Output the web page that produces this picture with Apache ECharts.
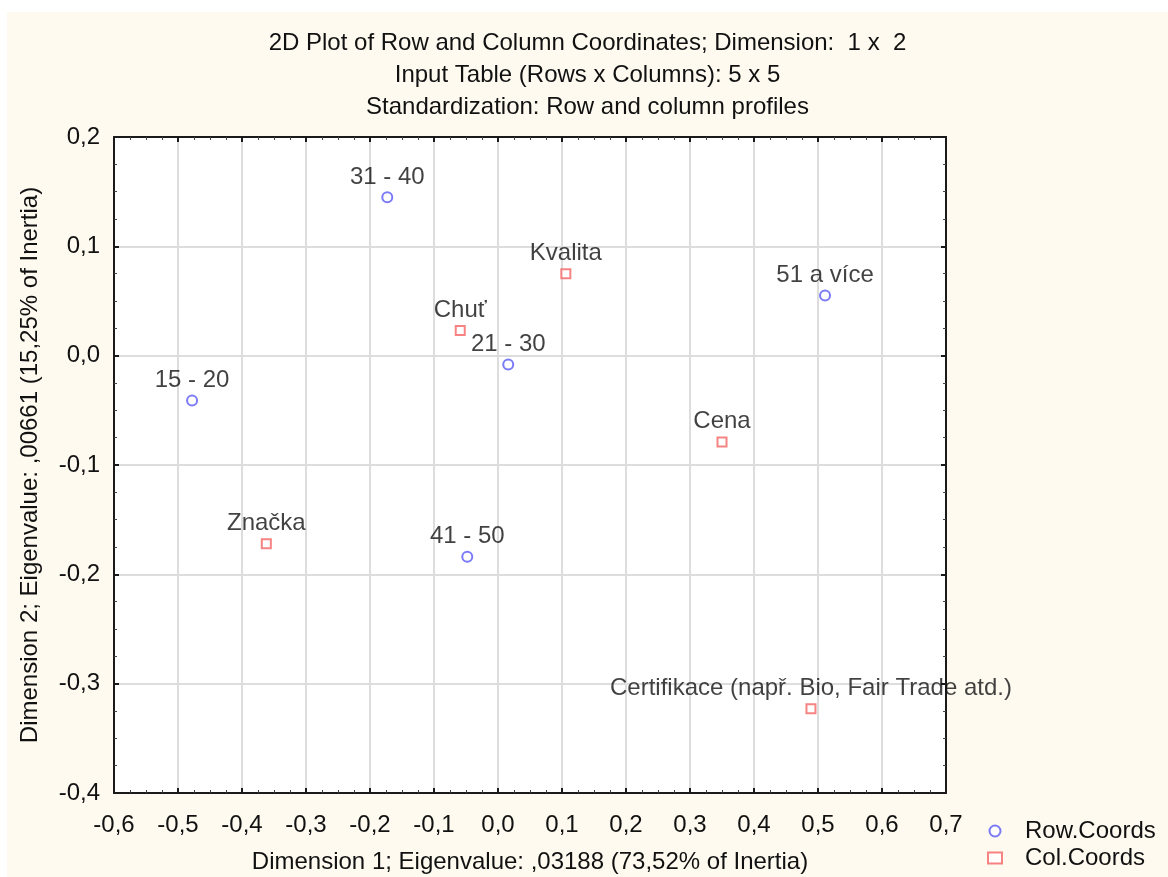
<!DOCTYPE html>
<html>
<head>
<meta charset="utf-8">
<script src="https://cdn.jsdelivr.net/npm/echarts@6/dist/echarts.min.js"></script>
<style>
  html, body { margin: 0; padding: 0; background: #ffffff; }
  #chart { position: absolute; left: 7px; top: 12px; width: 1161px; height: 865px; }
</style>
</head>
<body>
<div id="chart"></div>
<script>
// row points (age groups)
const rowNames = ['15 - 20', '21 - 30', '31 - 40', '41 - 50', '51 a více']
const rowDim1 = [-0.478, 0.016, -0.173, -0.048, 0.511]
const rowDim2 = [-0.041, -0.008, 0.145, -0.184, 0.055]

// column points (criteria)
const colNames = ['Chuť', 'Kvalita', 'Cena', 'Značka', 'Certifikace (např. Bio, Fair Trade atd.)']
const colDim1 = [-0.059, 0.106, 0.350, -0.362, 0.489]
const colDim2 = [0.023, 0.075, -0.079, -0.172, -0.323]

const titleLines = [
  '2D Plot of Row and Column Coordinates; Dimension:  1 x  2',
  'Input Table (Rows x Columns): 5 x 5',
  'Standardization: Row and column profiles',
]
const xName = 'Dimension 1; Eigenvalue: ,03188 (73,52% of Inertia)'
const yName = 'Dimension 2; Eigenvalue: ,00661 (15,25% of Inertia)'

const fmt = (v) => {
  const s = Math.abs(v).toFixed(1).replace('.', ',')
  return (v < -1e-9 ? '-' : '') + s
}

const chart = echarts.init(document.getElementById('chart'))
const font = 'Liberation Sans, Arial, sans-serif'
const txt = '#111111'
const fs = 24

const axisCommon = {
  type: 'value',
  interval: 0.1,
  axisLine: { show: true, onZero: false, lineStyle: { color: '#1a1a1a', width: 2 } },
  axisTick: { show: true, inside: true, length: 5, lineStyle: { color: '#1a1a1a', width: 2 } },
  minorTick: { show: true, splitNumber: 4, length: 3, lineStyle: { color: '#444444', width: 1 } },
  splitLine: { show: false },
}

function pts(xs, ys, names) {
  return xs.map((x, i) => ({ value: [x, ys[i]], name: names[i] }))
}

chart.setOption({
  backgroundColor: '#fefaf0',
  animation: false,
  textStyle: { fontFamily: font },
  title: {
    text: titleLines.join('\n'),
    left: 'center',
    top: 10,
    textStyle: { fontFamily: font, fontSize: fs, fontWeight: 'normal', color: txt, lineHeight: 32 },
  },
  grid: {
    left: 107, top: 125, right: 222, bottom: 84,
    outerBoundsMode: 'none',
    backgroundColor: '#ffffff', show: true, borderWidth: 0,
  },
  legend: {
    orient: 'vertical',
    left: 980,
    top: 807,
    padding: 0,
    itemWidth: 14,
    itemHeight: 11,
    itemGap: 3,
    textStyle: { fontFamily: font, fontSize: fs, color: txt, padding: [0, 0, 0, 18] },
    data: ['Row.Coords', 'Col.Coords'],
  },
  xAxis: [
    Object.assign({}, axisCommon, {
      min: -0.6, max: 0.7, position: 'bottom',
      splitLine: { show: true, lineStyle: { color: '#dddddd', width: 2 } },
      axisLabel: { formatter: fmt, fontSize: fs, color: txt, margin: 20 },
      name: xName, nameLocation: 'middle', nameGap: 57,
      nameTextStyle: { fontSize: fs, color: txt },
    }),
    Object.assign({}, axisCommon, {
      min: -0.6, max: 0.7, position: 'top',
      axisLabel: { show: false },
    }),
  ],
  yAxis: [
    Object.assign({}, axisCommon, {
      min: -0.4, max: 0.2, position: 'left',
      splitLine: { show: true, lineStyle: { color: '#dddddd', width: 2 } },
      axisLabel: { formatter: fmt, fontSize: fs, color: txt, margin: 14 },
      name: yName, nameLocation: 'middle', nameGap: 72,
      nameTextStyle: { fontSize: fs, color: txt },
    }),
    Object.assign({}, axisCommon, {
      min: -0.4, max: 0.2, position: 'right',
      axisLabel: { show: false },
    }),
  ],
  series: [
    {
      name: 'Row.Coords',
      type: 'scatter',
      symbol: 'circle',
      symbolSize: 10,
      itemStyle: { color: '#ffffff', borderColor: '#5a5af5', borderWidth: 2 },
      label: { show: true, position: 'top', distance: 2, formatter: '{b}', fontSize: fs, color: txt },
      data: pts(rowDim1, rowDim2, rowNames),
    },
    {
      name: 'Col.Coords',
      type: 'scatter',
      symbol: 'rect',
      symbolSize: 9,
      itemStyle: { color: '#ffffff', borderColor: '#f56464', borderWidth: 2 },
      label: { show: true, position: 'top', distance: 3, formatter: '{b}', fontSize: fs, color: txt },
      data: pts(colDim1, colDim2, colNames),
    },
  ],
})
</script>
</body>
</html>
